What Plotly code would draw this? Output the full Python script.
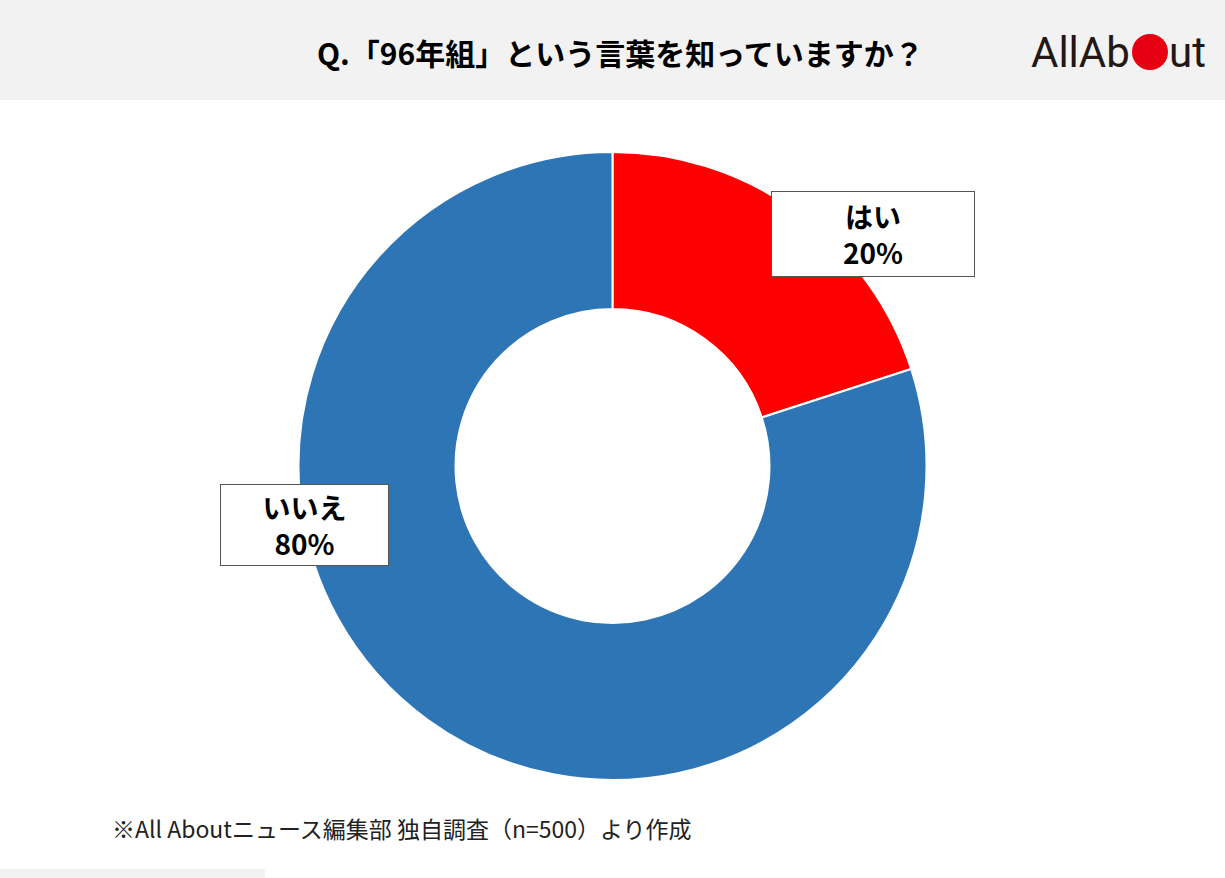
import plotly.graph_objects as go

# ======================================================
# Data
# ======================================================
labels = ["はい", "いいえ"]
values = [20, 80]
colors = ["#ff0000", "#2e75b6"]

title_text = "Q.「96年組」という言葉を知っていますか？"
note_text = "※All Aboutニュース編集部 独自調査（n=500）より作成"

W, H = 1225, 878
FONT = "Noto Sans CJK JP"

fig = go.Figure()
fig.add_trace(go.Pie(
    labels=labels,
    values=values,
    hole=0.5,
    sort=False,
    direction="clockwise",
    rotation=0,
    marker=dict(colors=colors, line=dict(color="white", width=2)),
    textinfo="none",
    hoverinfo="label+percent",
    domain=dict(x=[298 / W, 927 / W], y=[98 / H, 726 / H]),
    showlegend=False,
))

# label boxes (label + percent)
total = sum(values)
box_pos = [(873, 234), (304, 525)]
box_w = [202, 167]
box_h = [84, 80]
for lab, val, (bx, by), bw, bh in zip(labels, values, box_pos, box_w, box_h):
    fig.add_annotation(
        x=bx / W, y=1 - by / H, xref="paper", yref="paper",
        xanchor="center", yanchor="middle",
        text=f"<b>{lab}</b><br><b>{round(val / total * 100)}%</b>",
        showarrow=False, align="center",
        font=dict(family=FONT, size=28, color="black"),
        bgcolor="white", bordercolor="#555555", borderwidth=1,
        width=bw, height=bh, borderpad=0,
    )

# header band + title
fig.add_shape(type="rect", xref="paper", yref="paper",
              x0=0, x1=1, y0=1 - 100 / H, y1=1,
              fillcolor="#f2f2f2", line_width=0, layer="below")
fig.add_annotation(
    x=620 / W, y=1 - 52 / H, xref="paper", yref="paper",
    xanchor="center", yanchor="middle",
    text=f"<b>{title_text}</b>", showarrow=False,
    font=dict(family=FONT, size=30, color="black"),
)

# logo
fig.add_annotation(
    x=1132 / W, y=1 - 52 / H, xref="paper", yref="paper",
    text="AllAb", showarrow=False, xanchor="right", yanchor="middle",
    font=dict(family="Liberation Sans Narrow, Roboto", size=42, color="#231815"),
)
fig.add_shape(type="circle", xref="paper", yref="paper",
              x0=1132 / W, x1=1168 / W, y0=1 - 70 / H, y1=1 - 34 / H,
              fillcolor="#e60012", line_width=0)
fig.add_annotation(
    x=1167 / W, y=1 - 52 / H, xref="paper", yref="paper",
    text="ut", showarrow=False, xanchor="left", yanchor="middle",
    font=dict(family="Liberation Sans Narrow, Roboto", size=42, color="#231815"),
)

# footnote
fig.add_annotation(
    x=110 / W, y=1 - 828 / H, xref="paper", yref="paper",
    text=note_text, showarrow=False, xanchor="left", yanchor="middle",
    font=dict(family=FONT, size=23, color="#222222"),
)
fig.add_shape(type="rect", xref="paper", yref="paper",
              x0=0, x1=265 / W, y0=0, y1=9 / H,
              fillcolor="#f2f2f2", line_width=0)

fig.update_layout(
    width=W, height=H,
    margin=dict(l=0, r=0, t=0, b=0),
    paper_bgcolor="white",
    plot_bgcolor="white",
)

fig.write_html("out.html", config={"displayModeBar": False},
               post_script="document.body.style.margin='0';")
